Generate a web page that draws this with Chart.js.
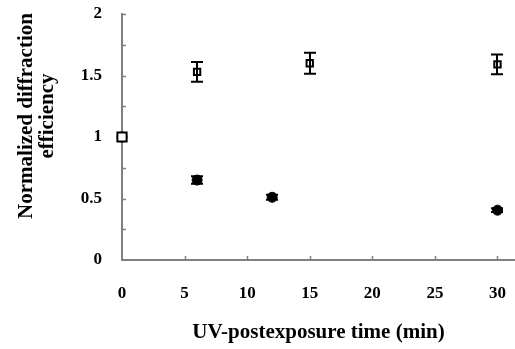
<!DOCTYPE html>
<html>
<head>
<meta charset="utf-8">
<script src="https://cdn.jsdelivr.net/npm/chart.js@4/dist/chart.umd.min.js"></script>
<style>
  html, body { margin: 0; padding: 0; background: #fff; }
  #wrap { width: 515px; height: 349px; }
</style>
</head>
<body>
<div id="wrap"><canvas id="chart" width="515" height="349"></canvas></div>
<script>
// UV-postexposure time (min)
const openTimes = [0, 6, 15, 30];
const openValues = [1.0, 1.53, 1.60, 1.59];
const openErrors = [0.0, 0.08, 0.085, 0.08];

const filledTimes = [0, 6, 12, 30];
const filledValues = [1.0, 0.65, 0.51, 0.405];
const filledErrors = [0.0, 0.03, 0.02, 0.015];

const yTicks = [0, 0.5, 1, 1.5, 2];
const xTicks = [0, 5, 10, 15, 20, 25, 30];

const font = "'Liberation Serif', 'Times New Roman', serif";
const toPoints = (xs, ys) => xs.map((x, i) => ({x: x, y: ys[i]}));

// inward tick marks, error bars and the two-line y title
const extras = {
    id: 'extras',
    beforeDatasetsDraw(chart) {
        const ctx = chart.ctx;
        const xs = chart.scales.x, ys = chart.scales.y;
        ctx.save();
        ctx.strokeStyle = '#808080';
        ctx.lineWidth = 1.5;
        const left = chart.chartArea.left, bottom = chart.chartArea.bottom;
        for (let v = 0.25; v <= 2; v += 0.25) {
            const py = Math.round(ys.getPixelForValue(v)) + 0.5;
            ctx.beginPath(); ctx.moveTo(left, py); ctx.lineTo(left + 4, py); ctx.stroke();
        }
        xTicks.slice(1).forEach(v => {
            const px = Math.round(xs.getPixelForValue(v)) + 0.5;
            ctx.beginPath(); ctx.moveTo(px, bottom); ctx.lineTo(px, bottom - 4); ctx.stroke();
        });
        ctx.restore();
    },
    afterDatasetsDraw(chart) {
        const ctx = chart.ctx;
        const xs = chart.scales.x, ys = chart.scales.y;
        ctx.save();
        ctx.strokeStyle = '#000';
        ctx.lineWidth = 2;
        const bars = [[openTimes, openValues, openErrors], [filledTimes, filledValues, filledErrors]];
        bars.forEach(([t, v, e]) => {
            t.forEach((x, i) => {
                if (!e[i]) return;
                const px = Math.round(xs.getPixelForValue(x));
                const top = ys.getPixelForValue(v[i] + e[i]);
                const bot = ys.getPixelForValue(v[i] - e[i]);
                ctx.beginPath();
                ctx.moveTo(px, top); ctx.lineTo(px, bot);
                ctx.moveTo(px - 6, top); ctx.lineTo(px + 6, top);
                ctx.moveTo(px - 6, bot); ctx.lineTo(px + 6, bot);
                ctx.stroke();
            });
        });
        ctx.restore();
    },
    afterDraw(chart) {
        const ctx = chart.ctx;
        ctx.save();
        ctx.fillStyle = '#000';
        ctx.font = 'bold 21px ' + font;
        ctx.textAlign = 'center';
        ctx.textBaseline = 'alphabetic';
        ctx.translate(32, 116);
        ctx.rotate(-Math.PI / 2);
        ctx.fillText('Normalized diffraction', 0, 0);
        ctx.fillText('efficiency', 0, 21);
        ctx.restore();
    }
};

new Chart(document.getElementById('chart'), {
    type: 'scatter',
    data: {
        datasets: [{
            data: toPoints(filledTimes, filledValues),
            pointStyle: 'circle',
            pointRadius: 5,
            backgroundColor: '#000',
            borderColor: '#000',
            borderWidth: 1,
            clip: false,
            order: 2
        }, {
            data: toPoints(openTimes, openValues),
            pointStyle: 'rect',
            pointRadius: [6.5, 4.5, 4.5, 4.5],
            backgroundColor: '#fff',
            borderColor: '#000',
            borderWidth: 2,
            clip: false,
            order: 1
        }]
    },
    options: {
        responsive: false,
        animation: false,
        events: [],
        layout: {padding: {top: 14, right: 0, left: 0, bottom: 0}, autoPadding: false},
        plugins: {legend: {display: false}, tooltip: {enabled: false}},
        scales: {
            x: {
                type: 'linear',
                min: 0,
                max: 31.4,
                afterBuildTicks: s => { s.ticks = xTicks.map(v => ({value: v})); },
                afterFit: s => { s.height = 89; s.paddingLeft = 0; s.paddingRight = 0; },
                grid: {display: false, drawTicks: false},
                border: {display: true, color: '#808080', width: 2},
                ticks: {color: '#000', padding: 23, callback: v => String(v),
                        font: {family: font, size: 17, weight: 'bold'}},
                title: {display: true, text: 'UV-postexposure time (min)', color: '#000',
                        padding: {top: 18}, font: {family: font, size: 21, weight: 'bold'}}
            },
            y: {
                min: 0,
                max: 2,
                afterBuildTicks: s => { s.ticks = yTicks.map(v => ({value: v})); },
                afterFit: s => { s.width = 122; s.paddingTop = 0; s.paddingBottom = 0; },
                grid: {display: false, drawTicks: false},
                border: {display: true, color: '#808080', width: 2},
                ticks: {color: '#000', padding: 20, callback: v => String(v),
                        font: {family: font, size: 17, weight: 'bold'}}
            }
        }
    },
    plugins: [extras]
});
</script>
</body>
</html>
